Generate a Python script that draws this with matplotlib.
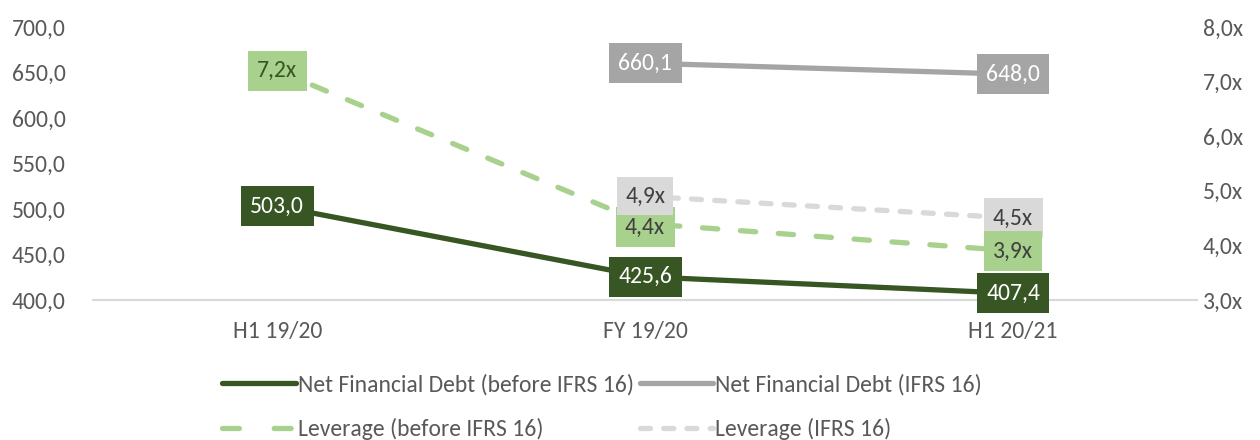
import matplotlib.pyplot as plt
from matplotlib.lines import Line2D

plt.rcParams['font.family'] = ['Carlito', 'Lato', 'DejaVu Sans']

# data
periodos = ['H1 19/20', 'FY 19/20', 'H1 20/21']
nfd_antes = [503.0, 425.6, 407.4]
nfd_ifrs = [None, 660.1, 648.0]
lev_antes = [7.2, 4.4, 3.9]
lev_ifrs = [None, 4.9, 4.5]

c_verde = '#375623'
c_gris = '#a5a5a5'
c_verde_cl = '#a9d18e'
c_gris_cl = '#d9d9d9'
c_texto = '#595959'
fs = 17

def fmt(v, suf=''):
    return f'{v:.1f}'.replace('.', ',') + suf

fig = plt.figure(figsize=(12.6, 4.4), dpi=100)
ax1 = fig.add_axes([0.074, 0.318, 0.876, 0.621])
ax2 = ax1.twinx()

x = list(range(len(periodos)))

# eje derecho: leverage
xi = [i for i, v in enumerate(lev_ifrs) if v is not None]
ax2.plot(x, lev_antes, color=c_verde_cl, lw=3.8, dashes=(2.9, 4.3),
         dash_capstyle='round', zorder=2)
ax2.plot(xi, [lev_ifrs[i] for i in xi], color=c_gris_cl, lw=3.8,
         dashes=(1.9, 2.5), dash_capstyle='round', zorder=2)

# eje izquierdo: deuda neta
xn = [i for i, v in enumerate(nfd_ifrs) if v is not None]
ax1.plot(x, nfd_antes, color=c_verde, lw=3.8)
ax1.plot(xn, [nfd_ifrs[i] for i in xn], color=c_gris, lw=3.8)

ax1.set_zorder(ax2.get_zorder() + 1)
ax1.patch.set_visible(False)

# etiquetas
def etiqueta(ax, xx, yy, txt, fondo, color, dy=0, z=5, pad=0.4):
    ax.annotate(txt, (xx, yy), xytext=(0, dy), textcoords='offset points',
                ha='center', va='center', fontsize=fs, color=color, zorder=z,
                bbox=dict(boxstyle=f'square,pad={pad}', fc=fondo, ec='none'))

for i, v in enumerate(nfd_antes):
    etiqueta(ax1, i, v, fmt(v), c_verde, 'white')
for i in xn:
    etiqueta(ax1, i, nfd_ifrs[i], fmt(nfd_ifrs[i]), c_gris, 'white')

etiqueta(ax2, 0, lev_antes[0], fmt(lev_antes[0], 'x'), c_verde_cl, c_verde)
etiqueta(ax2, 1, lev_antes[1], fmt(lev_antes[1], 'x'), c_verde_cl, '#404040', dy=-2.5, z=5)
etiqueta(ax2, 1, lev_ifrs[1], fmt(lev_ifrs[1], 'x'), c_gris_cl, '#404040', z=6, pad=0.35)
etiqueta(ax2, 2, lev_ifrs[2], fmt(lev_ifrs[2], 'x'), c_gris_cl, '#404040', z=5)
etiqueta(ax2, 2, lev_antes[2], fmt(lev_antes[2], 'x'), c_verde_cl, '#404040', z=6)

# ejes
ax1.set_xlim(-0.5, 2.5)
ax1.set_ylim(400, 700)
ax2.set_ylim(3, 8)
ax1.set_xticks(x)
ax1.set_xticklabels(periodos)
ax1.set_yticks(range(400, 701, 50))
ax1.set_yticklabels([fmt(v) for v in range(400, 701, 50)])
ax2.set_yticks(range(3, 9))
ax2.set_yticklabels([fmt(v, 'x') for v in range(3, 9)])

for ax in (ax1, ax2):
    for s in ax.spines.values():
        s.set_visible(False)
    ax.tick_params(length=0, labelsize=fs, colors=c_texto)
ax1.spines['bottom'].set_visible(True)
ax1.spines['bottom'].set_color('#d9d9d9')
ax1.spines['bottom'].set_linewidth(1.5)
ax1.tick_params(axis='x', pad=15)
ax1.tick_params(axis='y', pad=20)
ax2.tick_params(axis='y', pad=4)

handles = [
    Line2D([], [], color=c_verde, lw=3.8, solid_capstyle='round'),
    Line2D([], [], color=c_verde_cl, lw=3.8, dashes=(3.2, 6.6), dash_capstyle='round'),
    Line2D([], [], color=c_gris, lw=3.8, solid_capstyle='round'),
    Line2D([], [], color=c_gris_cl, lw=3.8, dashes=(1.9, 2.5), dash_capstyle='round'),
]
labels = ['Net Financial Debt (before IFRS 16)', 'Leverage (before IFRS 16)',
          'Net Financial Debt (IFRS 16)', 'Leverage (IFRS 16)']
fig.legend(handles, labels, ncol=2, loc='center', bbox_to_anchor=(0.478, 0.075),
           frameon=False, fontsize=fs, labelcolor=c_texto, handlelength=3.1,
           handletextpad=0.1, columnspacing=0.25, labelspacing=0.95)

fig.savefig('out.png', dpi=100)
